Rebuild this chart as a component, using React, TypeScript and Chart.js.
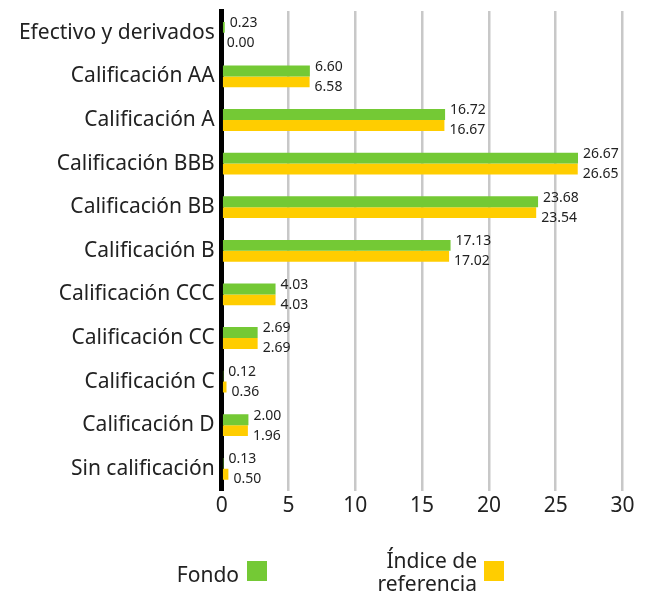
import React, { useEffect, useRef } from "react";
import { Chart, registerables } from "chart.js";

Chart.register(...registerables);

const categories = [
  "Efectivo y derivados",
  "Calificación AA",
  "Calificación A",
  "Calificación BBB",
  "Calificación BB",
  "Calificación B",
  "Calificación CCC",
  "Calificación CC",
  "Calificación C",
  "Calificación D",
  "Sin calificación",
];
const fondo = [0.23, 6.6, 16.72, 26.67, 23.68, 17.13, 4.03, 2.69, 0.12, 2.0, 0.13];
const indice = [0.0, 6.58, 16.67, 26.65, 23.54, 17.02, 4.03, 2.69, 0.36, 1.96, 0.5];
const xTicks = [0, 5, 10, 15, 20, 25, 30];
const seriesNames = ["Fondo", "Índice de referencia"];

const GREEN = "#74c935";
const YELLOW = "#ffcd00";
const TEXT = "#222222";
const FONT = "'Noto Sans', sans-serif";

const valueLabels = {
  id: "valueLabels",
  afterDatasetsDraw(chart: any) {
    const ctx = chart.ctx;
    ctx.save();
    ctx.font = `14px ${FONT}`;
    ctx.fillStyle = TEXT;
    ctx.textAlign = "left";
    ctx.textBaseline = "middle";
    chart.data.datasets.forEach((ds: any, di: number) => {
      const meta = chart.getDatasetMeta(di);
      meta.data.forEach((bar: any, i: number) => {
        const v = ds.data[i] as number;
        const yC = chart.scales.y.getPixelForValue(i);
        const y = di === 0 ? yC - 9.5 : yC + 10.5;
        ctx.fillText(v.toFixed(2), bar.x + 5, y);
      });
    });
    ctx.restore();
  },
};

const customLegend = {
  id: "customLegend",
  afterDraw(chart: any) {
    const ctx = chart.ctx;
    ctx.save();
    ctx.font = `21px ${FONT}`;
    ctx.fillStyle = TEXT;
    ctx.textAlign = "right";
    ctx.textBaseline = "alphabetic";
    ctx.fillText(seriesNames[0], 239, 582);
    ctx.fillStyle = GREEN;
    ctx.fillRect(247, 561, 20, 20);
    ctx.fillStyle = TEXT;
    const parts = seriesNames[1].split(" de ");
    ctx.fillText(parts[0] + " de", 477, 568);
    ctx.fillText(parts[1], 477, 591);
    ctx.fillStyle = YELLOW;
    ctx.fillRect(484, 561, 20, 20);
    ctx.restore();
  },
};

export default function App() {
  const ref = useRef<HTMLCanvasElement>(null);
  useEffect(() => {
    if (!ref.current) return;
    const chart = new Chart(ref.current, {
      type: "bar",
      data: {
        labels: categories,
        datasets: [
          {
            label: seriesNames[0],
            data: fondo,
            backgroundColor: GREEN,
            barPercentage: 1,
            categoryPercentage: 0.5,
          },
          {
            label: seriesNames[1],
            data: indice,
            backgroundColor: YELLOW,
            barPercentage: 1,
            categoryPercentage: 0.5,
          },
        ],
      },
      options: {
        indexAxis: "y",
        responsive: false,
        animation: false,
        layout: { padding: { left: 0, top: 11, right: 28.5, bottom: 76.4 } },
        plugins: {
          legend: { display: false },
          tooltip: { enabled: false },
        },
        scales: {
          x: {
            min: 0,
            max: 30,
            afterBuildTicks: (scale: any) => {
              scale.ticks = xTicks.map((v) => ({ value: v }));
            },
            afterFit: (scale: any) => {
              scale.height = 30;
              scale.paddingLeft = 0;
              scale.paddingRight = 0;
            },
            grid: {
              color: (c: any) => (c.index === 0 ? "rgba(0,0,0,0)" : "#c8c8c8"),
              lineWidth: 2.5,
              drawTicks: false,
            },
            border: { display: false },
            ticks: {
              color: TEXT,
              font: { family: FONT, size: 21 },
              padding: 3,
            },
          },
          y: {
            afterFit: (scale: any) => {
              scale.width = 221.7;
              scale.paddingTop = 0;
              scale.paddingBottom = 0;
            },
            grid: { display: false, drawTicks: false },
            border: { display: true, color: "#000000", width: 5 },
            ticks: {
              color: TEXT,
              font: { family: FONT, size: 21 },
              padding: 7,
            },
          },
        },
      },
      plugins: [valueLabels, customLegend],
    });
    return () => chart.destroy();
  }, []);
  return (
    <div style={{ position: "fixed", left: 0, top: 0, width: 651, height: 597, background: "#fff" }}>
      <canvas ref={ref} width={651} height={597} style={{ width: 651, height: 597 }} />
    </div>
  );
}
